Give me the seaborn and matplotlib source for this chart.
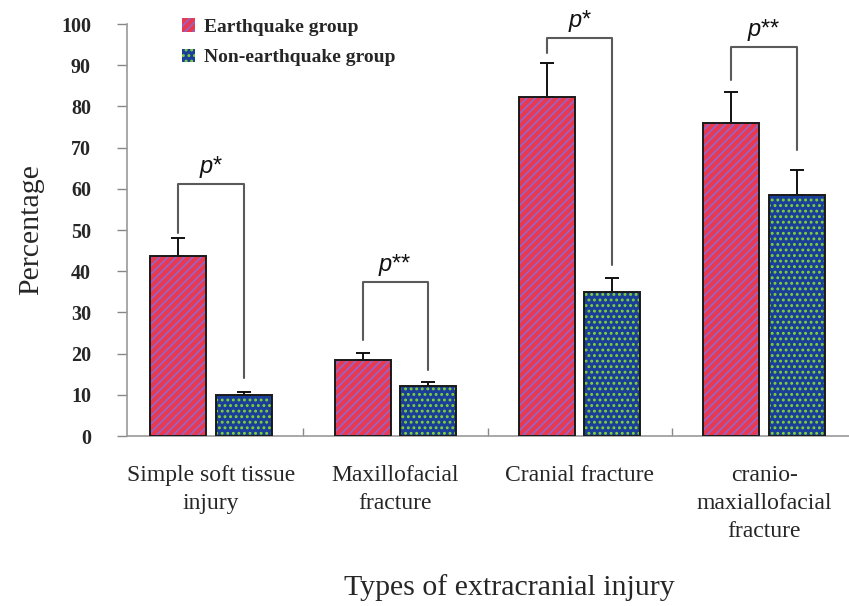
import matplotlib
matplotlib.use("Agg")
import matplotlib.pyplot as plt
import seaborn as sns
import pandas as pd
import numpy as np
from matplotlib.patches import Rectangle, Patch

# ---------------- data ----------------
categories = ["Simple soft tissue\ninjury", "Maxillofacial\nfracture",
              "Cranial fracture", "cranio-\nmaxiallofacial\nfracture"]
groups = ["Earthquake group", "Non-earthquake group"]
earthquake = [43.8, 18.4, 82.3, 76.0]
earthquake_err = [4.2, 1.7, 8.3, 7.4]
non_earthquake = [10.0, 12.2, 35.0, 58.5]
non_earthquake_err = [0.7, 0.9, 3.3, 6.1]
# significance brackets: (label, top, left end, right end)
sig_labels = ["$p$*", "$p$**", "$p$*", "$p$**"]
bracket_top = [61.2, 37.5, 96.6, 94.5]
bracket_left_end = [49.3, 23.3, 92.9, 86.4]
bracket_right_end = [14.1, 16.0, 41.5, 69.4]
yticks = [0, 10, 20, 30, 40, 50, 60, 70, 80, 90, 100]

df = pd.DataFrame({
    "category": categories * 2,
    "group": [groups[0]] * 4 + [groups[1]] * 4,
    "value": earthquake + non_earthquake,
})

# ---------------- style ----------------
sns.set_style("white")
plt.rcParams["font.family"] = ["Liberation Serif", "DejaVu Serif"]
plt.rcParams["mathtext.fontset"] = "custom"
plt.rcParams["mathtext.it"] = "Liberation Sans:italic"
plt.rcParams["mathtext.rm"] = "Liberation Sans"
plt.rcParams["mathtext.default"] = "it"
plt.rcParams["hatch.linewidth"] = 1.3

red_face, red_hatch = "#e8394f", "#9a62c4"
blue_face, green_dot = "#1b3e98", "#7fd43a"

fig = plt.figure(figsize=(8.49, 6.06), dpi=100)
ax = fig.add_axes([127 / 849, 170 / 606, 722 / 849, 412 / 606])

sns.barplot(data=df, x="category", y="value", hue="group",
            palette=[red_face, blue_face], width=0.71, gap=0.145,
            errorbar=None, ax=ax, legend=False)

styles = [(red_face, red_hatch, "////"), (blue_face, green_dot, "...")]
errs = [earthquake_err, non_earthquake_err]
for cont, (fc, hc, hatch), err in zip(ax.containers, styles, errs):
    xs, ys = [], []
    for p in cont.patches:
        p.set_facecolor(fc)
        p.set_edgecolor(hc)
        p.set_hatch(hatch)
        p.set_linewidth(0)
        ax.add_patch(Rectangle((p.get_x(), p.get_y()), p.get_width(), p.get_height(),
                               fill=False, edgecolor="#1a1a1a", linewidth=1.4, zorder=3))
        xs.append(p.get_x() + p.get_width() / 2)
        ys.append(p.get_height())
    ax.errorbar(xs, ys, yerr=[np.zeros(len(err)), err], fmt="none",
                ecolor="#111111", elinewidth=1.4, capsize=5, capthick=1.4, zorder=2)

# brackets
red_x = [p.get_x() + p.get_width() / 2 for p in ax.containers[0].patches]
green_x = [p.get_x() + p.get_width() / 2 for p in ax.containers[1].patches]
for i in range(len(categories)):
    ax.plot([red_x[i], red_x[i], green_x[i], green_x[i]],
            [bracket_left_end[i], bracket_top[i], bracket_top[i], bracket_right_end[i]],
            color="#5a5a5a", linewidth=1.5, zorder=1)
    ax.text((red_x[i] + green_x[i]) / 2, bracket_top[i] + 0.9, sig_labels[i],
            ha="center", va="bottom", fontsize=17, color="#111111",
            family="Liberation Sans")

# axes
ax.set_ylim(0, 100)
ax.set_xlim(-0.455, 3.46)
ax.set_yticks(yticks)
ax.set_yticklabels([str(t) for t in yticks], fontsize=14.5, fontweight="bold")
ax.tick_params(axis="y", which="major", left=True, direction="out", length=7, width=1,
               color="#888888", pad=19)
ax.set_xticks(range(len(categories)))
ax.set_xticklabels(categories, fontsize=17)
for lab in ax.get_xticklabels():
    lab.set_linespacing(1.42)
ax.tick_params(axis="x", which="major", bottom=True, length=0, pad=21)
ax.set_xticks([0.5, 1.5, 2.5], minor=True)
ax.tick_params(axis="x", which="minor", bottom=True, direction="in", length=6, width=1,
               color="#888888")

for s in ["top", "right"]:
    ax.spines[s].set_visible(False)
for s in ["left", "bottom"]:
    ax.spines[s].set_color("#999999")
    ax.spines[s].set_linewidth(1.2)

ax.set_ylabel("Percentage", fontsize=21.5)
ax.yaxis.set_label_coords(-0.115, 0.5)
ax.set_xlabel("Types of extracranial injury", fontsize=21.5)
ax.xaxis.set_label_coords((509 - 127) / 722, -0.335)

handles = [Patch(facecolor=red_face, edgecolor=red_hatch, hatch="////", linewidth=0),
           Patch(facecolor=blue_face, edgecolor=green_dot, hatch="...", linewidth=0)]
leg = ax.legend(handles, groups, loc="upper left", bbox_to_anchor=(164 / 849, 1 - 1 / 606),
                bbox_transform=fig.transFigure, frameon=False,
                prop={"family": "Liberation Serif", "weight": "bold", "size": 14},
                handlelength=0.7, handleheight=0.7, handletextpad=0.45, labelspacing=0.65)

fig.savefig("out.png", dpi=100)
